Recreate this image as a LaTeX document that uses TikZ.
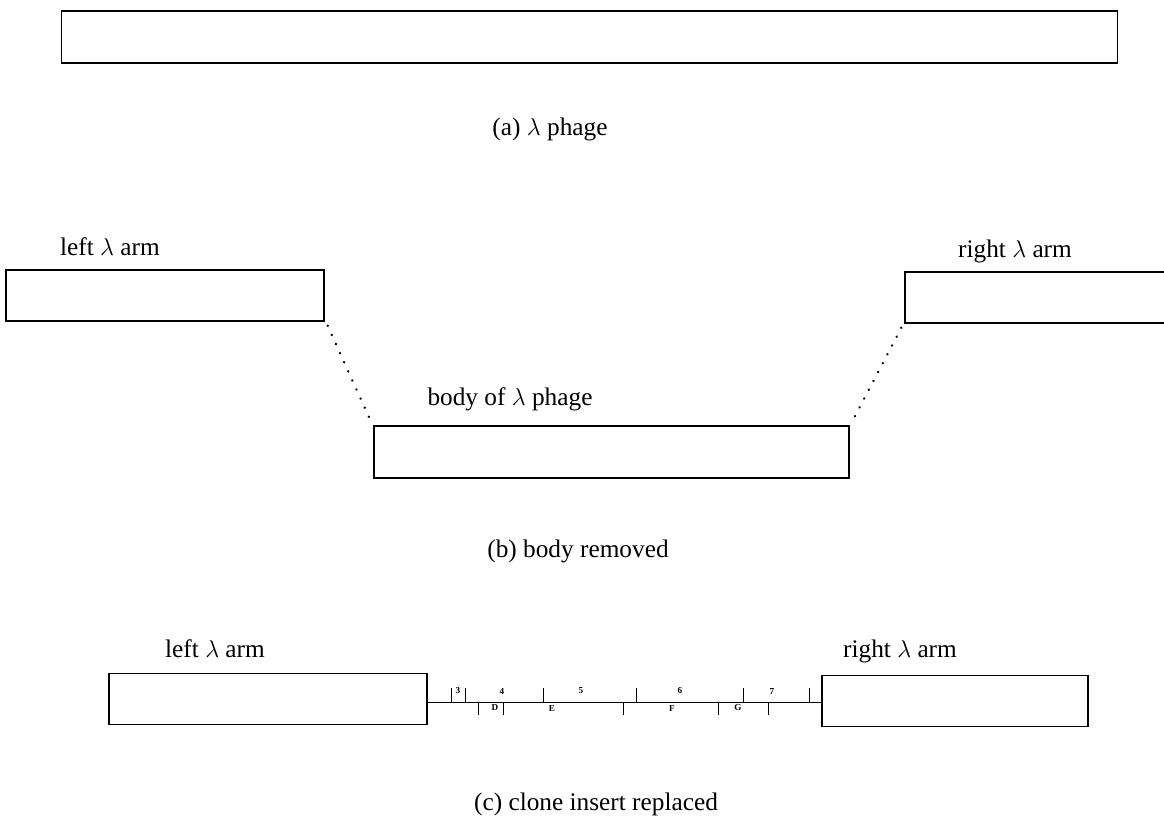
\documentclass[tikz,border=0pt]{standalone}
\usepackage{fontspec}
\setmainfont{Liberation Serif}
\usetikzlibrary{positioning}

\begin{document}
\begin{tikzpicture}[x=0.025cm,y=-0.025cm,
    arm/.style={rectangle,draw,line width=0.9pt,minimum height=1.28cm,inner sep=0pt},
    lab/.style={font=\fontsize{18}{20}\selectfont,inner sep=0pt,anchor=base},
    tag/.style={font=\fontsize{6.5}{6.5}\selectfont\bfseries,inner sep=0pt},
    link/.style={line width=1.8pt,dash pattern=on 0.1pt off 7pt,line cap=round},
]
\useasboundingbox (0,0) rectangle (1164,825);

% (a) whole phage
\node[arm,minimum width=26.375cm,minimum height=1.3cm] (phage) at (589.5,37) {};
\node[lab] (capa) at (550,135) {(a) $\lambda$ phage};

% (b) arms and body
\node[arm,minimum width=7.95cm] (larm) at (165,295.5) {};
\node[arm,minimum width=6.9cm] (rarm) at (1043,297.5) {};
\node[arm,minimum width=11.875cm,minimum height=1.3cm] (body) at (611.5,452) {};
\node[lab] (llab) at (110,255) {left $\lambda$ arm};
\node[lab] (rlab) at (1015,257) {right $\lambda$ arm};
\node[lab] (blab) at (510,405) {body of $\lambda$ phage};
\node[lab] (capb) at (578,557) {(b) body removed};
\draw[link] ([shift={(3,4)}]larm.south east) -- ([shift={(-2,-3)}]body.north west);
\draw[link] ([shift={(-3,4)}]rarm.south west) -- ([shift={(2,-3)}]body.north east);

% (c) clone insert
\node[arm,minimum width=7.95cm] (carml) at (268,699) {};
\node[arm,minimum width=6.65cm] (carmr) at (955,701) {};
\node[lab] (cll) at (215,657) {left $\lambda$ arm};
\node[lab] (crl) at (900,657) {right $\lambda$ arm};
\node[lab] (capc) at (596,810) {(c) clone insert replaced};
\draw[line width=0.7pt] (carml.east |- 0,702) coordinate (ins) -- (carmr.west |- 0,702);
\foreach \x in {451,465,543,636,743,809}
    \draw[line width=0.7pt] (\x,702) -- (\x,688);
\foreach \x in {478,503,623,718,768}
    \draw[line width=0.7pt] (\x,702) -- (\x,715);
\foreach \x/\t in {458/3,502/4,581/5,680/6,772/7}
    \node[tag] (up\t) at (\x,691) {\t};
\foreach \x/\t in {495/D,552/E,672/F,738/G}
    \node[tag] (dn\t) at (\x,708) {\t};
\end{tikzpicture}
\end{document}
